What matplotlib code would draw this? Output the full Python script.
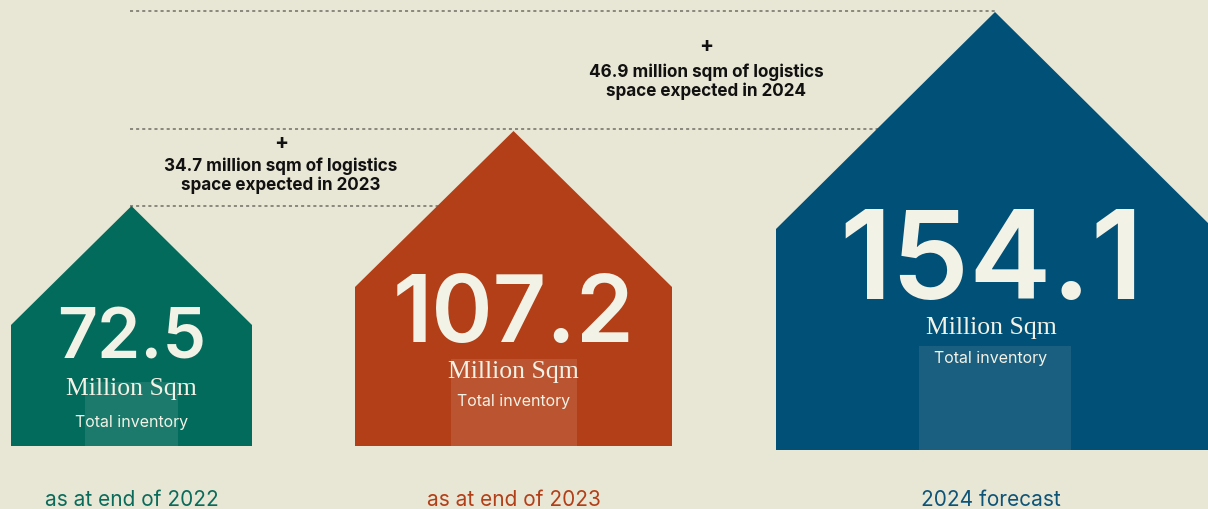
import matplotlib
matplotlib.use("Agg")
import matplotlib.pyplot as plt
from matplotlib.patches import Polygon, Rectangle

# ---- data ----
totals = [72.5, 107.2, 154.1]
total_labels = ["72.5", "107.2", "154.1"]
period_labels = ["as at end of 2022", "as at end of 2023", "2024 forecast"]
additions = [34.7, 46.9]
addition_years = ["2023", "2024"]
unit_label = "Million Sqm"
sub_label = "Total inventory"

# ---- layout (pixels) ----
W, H = 1208, 510
house_left = [11, 355, 776]
house_right = [252, 672, 1214]
peak_y = [207, 132, 13]
eave_y = [326, 288, 230]
bottom_y = [447, 447, 451]
door_x = [(85, 178), (451, 577), (919, 1071)]
door_top = [383, 360, 347]
num_base = [359, 342, 299]
num_size = [50, 67, 89]
unit_base = [395, 378, 334]
sub_base = [427, 406, 363]
label_base = [506, 506, 506]

bg = "#E8E6D4"
house_cols = ["#026B5B", "#B23F18", "#015077"]
door_cols = ["#1B7A6B", "#BB5431", "#1A5F80"]
label_cols = ["#0B6B5B", "#B23F18", "#0D5478"]
cream = "#F3F2E6"

fig = plt.figure(figsize=(W / 100, H / 100), dpi=100, facecolor=bg)
ax = fig.add_axes([0, 0, 1, 1])
ax.set_xlim(0, W)
ax.set_ylim(H, 0)
ax.axis("off")
ax.set_facecolor(bg)

sans = ["Inter", "DejaVu Sans"]
serif = ["Liberation Serif", "DejaVu Serif"]

# dotted guide lines (behind houses)
guide_y = [peak_y[0], peak_y[1] - 2, peak_y[2] - 1]
guide_x1 = [520, 1000, 995]
for gy, gx in zip(guide_y, guide_x1):
    ax.plot([130, gx], [gy, gy], color="#6F6E63", lw=1.1,
            linestyle=(0, (2, 2)), zorder=1)

for i in range(3):
    cx = (house_left[i] + house_right[i]) / 2
    pts = [(house_left[i], bottom_y[i]), (house_left[i], eave_y[i]),
           (cx, peak_y[i]), (house_right[i], eave_y[i]),
           (house_right[i], bottom_y[i])]
    ax.add_patch(Polygon(pts, closed=True, facecolor=house_cols[i],
                         edgecolor="none", zorder=2))
    dx0, dx1 = door_x[i]
    ax.add_patch(Rectangle((dx0, door_top[i]), dx1 - dx0,
                           bottom_y[i] - door_top[i],
                           facecolor=door_cols[i], edgecolor="none", zorder=3))
    tx = cx if i < 2 else 991
    ax.text(tx, num_base[i], total_labels[i], ha="center", va="baseline",
            fontsize=num_size[i], family=sans, weight="semibold",
            color=cream, zorder=4)
    ax.text(tx, unit_base[i], unit_label, ha="center", va="baseline",
            fontsize=18.5, family=serif, color=cream, zorder=4)
    ax.text(tx, sub_base[i], sub_label, ha="center", va="baseline",
            fontsize=11.5, family=sans, color=cream, zorder=4)
    ax.text(tx, label_base[i], period_labels[i], ha="center", va="baseline",
            fontsize=15, family=sans, color=label_cols[i], zorder=4)

# addition annotations
ann_x = [281, 706]
plus_y = [143, 46]
line1_base = [171, 77]
for j in range(2):
    ax.text(ann_x[j], plus_y[j], "+", ha="center", va="center",
            fontsize=15, family=sans, weight="bold", color="#111111")
    ax.text(ann_x[j], line1_base[j],
            f"{additions[j]} million sqm of logistics",
            ha="center", va="baseline", fontsize=12.3, family=sans,
            weight="bold", color="#111111")
    ax.text(ann_x[j], line1_base[j] + 19,
            f"space expected in {addition_years[j]}",
            ha="center", va="baseline", fontsize=12.3, family=sans,
            weight="bold", color="#111111")

fig.savefig("out.png", dpi=100, facecolor=bg)
